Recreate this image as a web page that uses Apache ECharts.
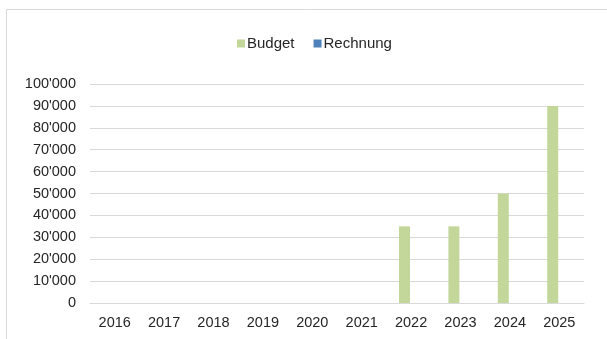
<!DOCTYPE html>
<html>
<head>
<meta charset="utf-8">
<script src="https://cdn.jsdelivr.net/npm/echarts@6/dist/echarts.min.js"></script>
<style>
  html, body { margin: 0; padding: 0; background: #ffffff; }
  #chart { width: 607px; height: 339px; }
</style>
</head>
<body>
<div id="chart"></div>
<script>
// Years on the category axis
const years = ['2016', '2017', '2018', '2019', '2020', '2021', '2022', '2023', '2024', '2025'];
// Budget amounts per year (null = no entry)
const budget = [null, null, null, null, null, null, 35000, 35000, 50000, 90000];
// Invoiced amounts per year (no entries yet)
const rechnung = [null, null, null, null, null, null, null, null, null, null];
// Value axis range
const yMin = 0;
const yMax = 100000;
const yStep = 10000;

// Swiss-style thousands separator: 10'000
function fmt(v) {
  return String(v).replace(/\B(?=(\d{3})+(?!\d))/g, "'");
}

const chart = echarts.init(document.getElementById('chart'), null, { renderer: 'canvas' });
const font = 'Liberation Sans, Arial, sans-serif';
const textColor = '#262626';

chart.setOption({
  animation: false,
  backgroundColor: '#ffffff',
  textStyle: { fontFamily: font },
  graphic: [{
    type: 'rect',
    shape: { x: 6.5, y: 9.5, width: 640, height: 360 },
    style: { fill: 'none', stroke: '#d9d9d9', lineWidth: 1 },
    silent: true
  }],
  legend: {
    top: 31,
    left: 232,
    itemWidth: 8,
    itemHeight: 8,
    itemGap: 19,
    icon: 'rect',
    textStyle: { fontSize: 15, color: textColor, fontFamily: font, padding: [0, 0, 0, -3] },
    data: ['Budget', 'Rechnung']
  },
  grid: { left: 90, right: 23, top: 84, bottom: 36, containLabel: false },
  xAxis: {
    type: 'category',
    data: years,
    axisLine: { show: true, lineStyle: { color: '#d9d9d9', width: 1 } },
    axisTick: { show: false },
    axisLabel: { color: textColor, fontSize: 14.5, fontFamily: font, margin: 12 }
  },
  yAxis: {
    type: 'value',
    min: yMin,
    max: yMax,
    interval: yStep,
    axisLine: { show: false },
    axisTick: { show: false },
    splitLine: { lineStyle: { color: '#d9d9d9', width: 1 } },
    axisLabel: { color: textColor, fontSize: 14.5, fontFamily: font, margin: 14, formatter: fmt }
  },
  series: [
    {
      name: 'Budget',
      type: 'bar',
      data: budget,
      barWidth: 11,
      barGap: '20%',
      itemStyle: { color: '#c4d79b' }
    },
    {
      name: 'Rechnung',
      type: 'bar',
      data: rechnung,
      barWidth: 11,
      itemStyle: { color: '#4f81bd' }
    }
  ]
});
</script>
</body>
</html>
